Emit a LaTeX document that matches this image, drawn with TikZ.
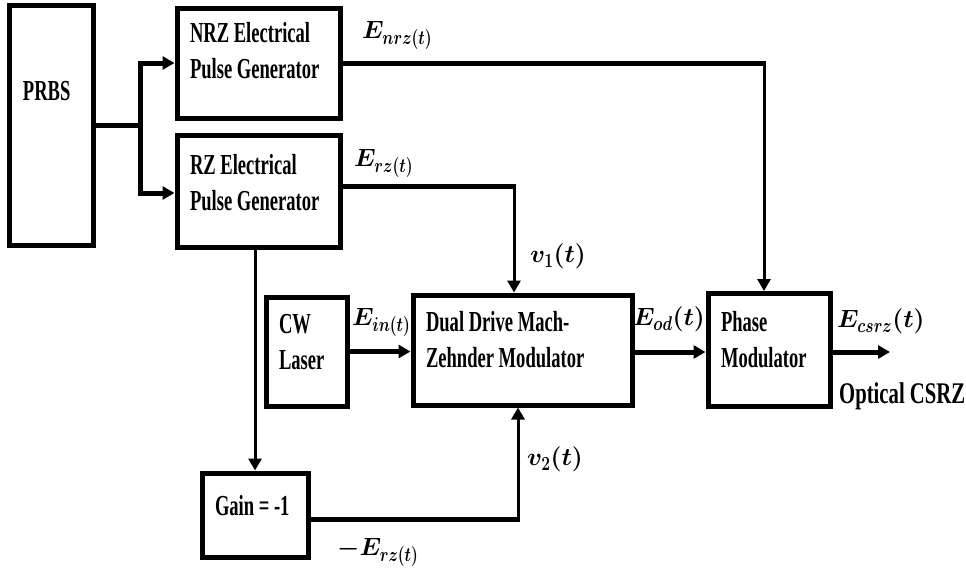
\documentclass[tikz,border=0pt]{standalone}
\usepackage{fix-cm}
\usepackage{graphicx}
\usepackage{fontspec}
\newfontfamily\blk{Liberation Serif}[FakeStretch=0.64]
\newfontfamily\blkw{Liberation Serif}[FakeStretch=0.69]
\DeclareMathSizes{25}{25}{20}{15}
\newcommand{\sbx}[1]{\raisebox{-2pt}{\scalebox{0.78}[1]{$\scriptstyle #1$}}}
\usetikzlibrary{arrows.meta}
\begin{document}
\begin{tikzpicture}[x=1pt,y=-1pt,
  box/.style={draw, line width=5pt, inner sep=0pt, font=\blk\bfseries\fontsize{29}{36}\selectfont},
  thk/.style={line width=5pt},
  thn/.style={line width=3pt},
  arr/.style={-{Triangle[length=12pt,width=13pt]}},
  lbl/.style={inner sep=0pt, anchor=base west, font=\fontsize{25}{30}\selectfont\boldmath},
  txt/.style={inner sep=0pt, anchor=base west, font=\blkw\bfseries\fontsize{30}{36}\selectfont}]
\path[use as bounding box, fill=white] (0,0) rectangle (966,574);

% blocks
\node[box, minimum width=84pt, minimum height=240pt] (prbs) at (51,125)
  {\begin{tabular}{@{}p{56pt}@{}}PRBS\\[64pt]\end{tabular}};
\node[box, minimum width=163pt, minimum height=110pt] (nrz) at (258.5,63)
  {\begin{tabular}{@{}p{137pt}@{}}NRZ Electrical\\Pulse Generator\\[19pt]\end{tabular}};
\node[box, minimum width=163pt, minimum height=112pt] (rz) at (258.5,191)
  {\begin{tabular}{@{}p{137pt}@{}}RZ Electrical\\Pulse Generator\\[12pt]\end{tabular}};
\node[box, minimum width=81pt, minimum height=109pt] (cw) at (306.5,351.5)
  {\begin{tabular}{@{}p{55pt}@{}}CW\\Laser\\[15pt]\end{tabular}};
\node[box, minimum width=219pt, minimum height=110pt] (dd) at (522.5,350)
  {\begin{tabular}{@{}p{193pt}@{}}Dual Drive Mach-\\Zehnder Modulator\\[15pt]\end{tabular}};
\node[box, minimum width=122pt, minimum height=113pt] (pm) at (769,350)
  {\begin{tabular}{@{}p{96pt}@{}}Phase\\Modulator\\[15pt]\end{tabular}};
\node[box, minimum width=106pt, minimum height=84pt] (gain) at (255,515)
  {\begin{tabular}{@{}p{80pt}@{}}Gain = -1\\[14pt]\end{tabular}};

% junction / corner points
\coordinate (br) at (140,125);
\coordinate (c1) at (764,63);
\coordinate (c2) at (514,186);
\coordinate (c3) at (518,519);
\coordinate (out) at (890,352);

% connectors
\draw[thk] (prbs.east) -- (br);
\draw[thk,arr] (br) |- (nrz.west);
\draw[thk,arr] (br) |- ([yshift=-2pt]rz.west);
\draw[thk] (nrz.east) -- ([xshift=1.5pt]c1);
\draw[thn,arr] (c1) -- (c1 |- pm.north);
\draw[thk] ([yshift=5pt]rz.east) -- ([xshift=1.5pt]c2);
\draw[thn,arr] (c2) -- (c2 |- dd.north);
\draw[thn,arr] (rz.south -| gain.north) -- (gain.north);
\draw[thk] ([yshift=-4pt]gain.east) -- ([xshift=1.5pt]c3);
\draw[thn,arr] (c3) -- (c3 |- dd.south);
\draw[thk,arr] (cw.east) -- (cw.east -| dd.west);
\draw[thk,arr] ([yshift=-2pt]dd.east) -- ([yshift=-2pt]dd.east -| pm.west);
\draw[thk,arr] ([yshift=-2pt]pm.east) -- (out);

% labels
\node[lbl] (lnrz) at (362,38.5) {$E_{\sbx{nrz(t)}}$};
\node[lbl] (lrz) at (354,166) {$E_{\sbx{rz(t)}}$};
\node[lbl] (lv1) at (530,262) {$v_{\sbx{1}}(t)$};
\node[lbl] (lin) at (352,325) {$E_{\sbx{in(t)}}$};
\node[lbl] (lod) at (633,325) {$E_{\sbx{od}}(t)$};
\node[lbl] (lcs) at (837,327) {$E_{\sbx{csrz}}(t)$};
\node[lbl] (lv2) at (527,465) {$v_{\sbx{2}}(t)$};
\node[lbl] (lmrz) at (337,555) {$-E_{\sbx{rz(t)}}$};
\node[txt] (ocsrz) at (839,403) {Optical CSRZ};
\end{tikzpicture}
\end{document}
